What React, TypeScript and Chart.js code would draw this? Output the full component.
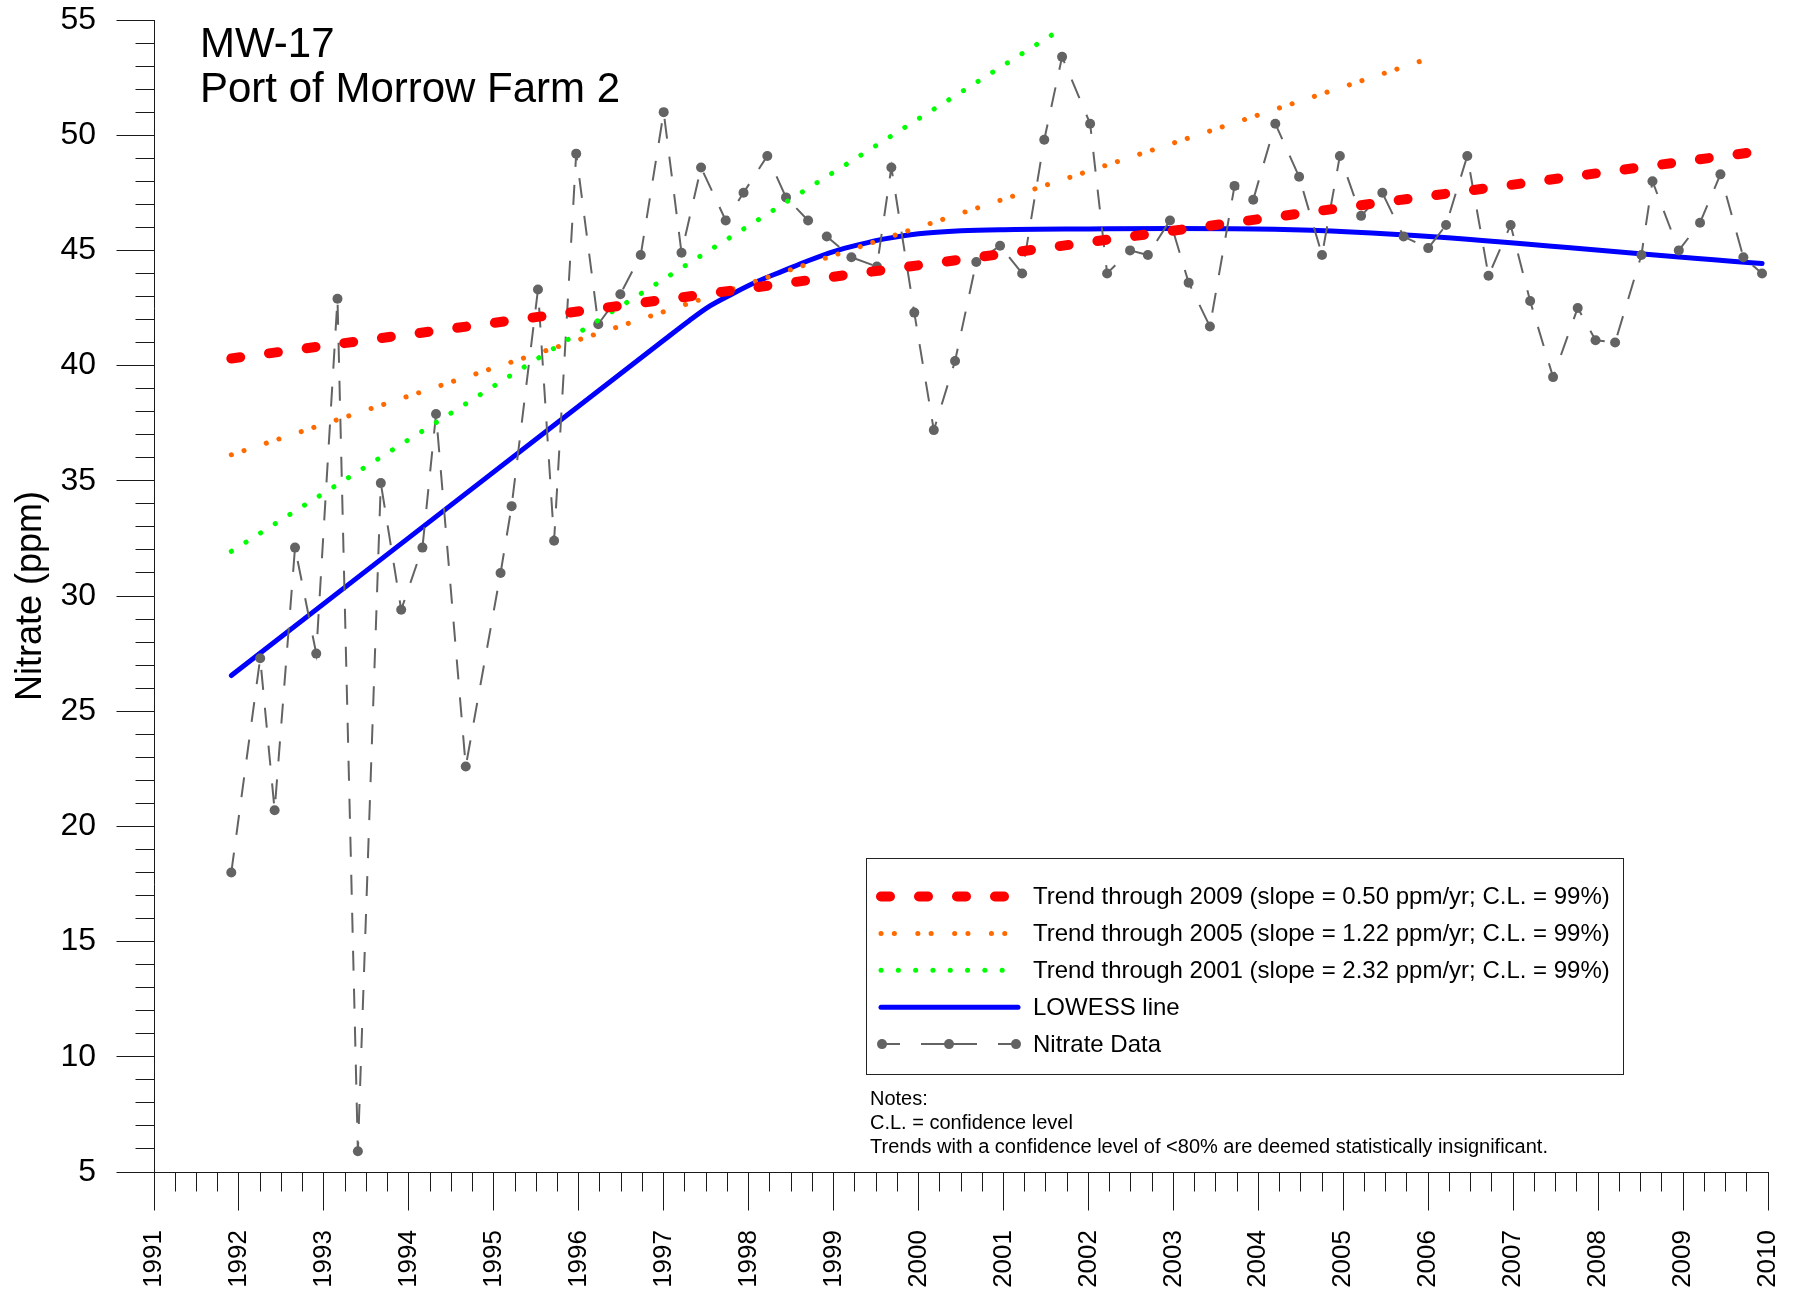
import React, { useEffect, useRef } from "react";
import { Chart, registerables } from "chart.js";

Chart.register(...registerables);

const FONT_FAMILY = "'Liberation Sans', Arial, Helvetica, sans-serif";

// ---------------- Data ----------------
const nitrateDates = [
  1991.91, 1992.25, 1992.42, 1992.66, 1992.91, 1993.16, 1993.40, 1993.67, 1993.91, 1994.16,
  1994.32, 1994.67, 1995.08, 1995.21, 1995.52, 1995.71, 1995.97, 1996.23, 1996.49, 1996.73,
  1997.00, 1997.21, 1997.44, 1997.73, 1997.94, 1998.22, 1998.44, 1998.70, 1998.92, 1999.21,
  1999.51, 1999.68, 1999.95, 2000.18, 2000.43, 2000.68, 2000.96, 2001.22, 2001.48, 2001.69,
  2002.02, 2002.22, 2002.49, 2002.70, 2002.96, 2003.18, 2003.43, 2003.72, 2003.94, 2004.20,
  2004.48, 2004.75, 2004.96, 2005.21, 2005.46, 2005.71, 2006.00, 2006.21, 2006.46, 2006.71,
  2006.97, 2007.20, 2007.47, 2007.76, 2007.97, 2008.20, 2008.51, 2008.64, 2008.95, 2009.20,
  2009.44, 2009.71, 2009.93,
];
const nitrateValues = [
  18.0, 27.3, 20.7, 32.1, 27.5, 42.9, 5.9, 34.9, 29.4, 32.1,
  37.9, 22.6, 31.0, 33.9, 43.3, 32.4, 49.2, 41.8, 43.1, 44.8,
  51.0, 44.9, 48.6, 46.3, 47.5, 49.1, 47.3, 46.3, 45.6, 44.7,
  44.3, 48.6, 42.3, 37.2, 40.2, 44.5, 45.2, 44.0, 49.8, 53.4,
  50.5, 44.0, 45.0, 44.8, 46.3, 43.6, 41.7, 47.8, 47.2, 50.5,
  48.2, 44.8, 49.1, 46.5, 47.5, 45.6, 45.1, 46.1, 49.1, 43.9,
  46.1, 42.8, 39.5, 42.5, 41.1, 41.0, 44.8, 48.0, 45.0, 46.2,
  48.3, 44.7, 44.0,
];

const lowessDates = [
  1991.91, 1997.0, 1997.3, 1997.55, 1997.8, 1998.1, 1998.4, 1998.7, 1999.0, 1999.3,
  1999.6, 2000.0, 2000.5, 2001.0, 2002.0, 2003.0, 2004.19, 2009.93,
];
const lowessValues = [
  26.55, 41.1, 41.95, 42.6, 43.1, 43.65, 44.1, 44.55, 44.95, 45.25,
  45.5, 45.72, 45.85, 45.9, 45.93, 45.95, 45.92, 44.43,
];

const trend2009Dates = [1991.91, 2009.93];
const trend2009Values = [40.31, 49.32];
const trend2005Dates = [1991.91, 2006.0];
const trend2005Values = [36.13, 53.32];
const trend2001Dates = [1991.91, 2001.62];
const trend2001Values = [31.94, 54.47];

const seriesLabels = [
  "Trend through 2009 (slope = 0.50 ppm/yr; C.L. = 99%)",
  "Trend through 2005 (slope = 1.22 ppm/yr; C.L. = 99%)",
  "Trend through 2001 (slope = 2.32 ppm/yr; C.L. = 99%)",
  "LOWESS line",
  "Nitrate Data",
];

const titleLines = ["MW-17", "Port of Morrow Farm 2"];
const yAxisTitle = "Nitrate (ppm)";
const noteLines = [
  "Notes:",
  "C.L. = confidence level",
  "Trends with a confidence level of <80% are deemed statistically insignificant.",
];

const xMin = 1991;
const xMax = 2010;
const yMin = 5;
const yMax = 55;
const yMajorStep = 5;
const yMinorStep = 1;
const xMajorStep = 1;
const xMinorStep = 0.25;

const toPoints = (xs: number[], ys: number[]) => xs.map((x, i) => ({ x, y: ys[i] }));

const AXIS_COLOR = "#1a1a1a";
const DATA_COLOR = "#636363";

// ---------------- Plugins ----------------
const axisTicksPlugin = {
  id: "axisTicks",
  afterDraw(chart: any) {
    const { ctx, chartArea } = chart;
    const xs = chart.scales.x;
    const ys = chart.scales.y;
    ctx.save();
    ctx.strokeStyle = AXIS_COLOR;
    ctx.lineWidth = 1;
    ctx.setLineDash([]);
    ctx.beginPath();
    const leftEdge = Math.round(chartArea.left - 0.5) + 0.5;
    const nY = Math.round((yMax - yMin) / yMinorStep);
    for (let i = 0; i <= nY; i++) {
      const v = yMin + i * yMinorStep;
      const py = Math.round(ys.getPixelForValue(v) - 0.5) + 0.5;
      const r = v / yMajorStep;
      const major = Math.abs(r - Math.round(r)) < 1e-6;
      const len = major ? 38 : 19;
      ctx.moveTo(leftEdge - len, py);
      ctx.lineTo(leftEdge, py);
    }
    const bottomEdge = Math.round(chartArea.bottom - 0.5) + 0.5;
    const nX = Math.round((xMax - xMin) / xMinorStep);
    for (let i = 0; i <= nX; i++) {
      const v = xMin + i * xMinorStep;
      const px = Math.round(xs.getPixelForValue(v) - 0.5) + 0.5;
      const r = (v - xMin) / xMajorStep;
      const major = Math.abs(r - Math.round(r)) < 1e-6;
      const len = major ? 38 : 19;
      ctx.moveTo(px, bottomEdge);
      ctx.lineTo(px, bottomEdge + len);
    }
    ctx.stroke();
    ctx.restore();
  },
};

const annotationsPlugin = {
  id: "annotations",
  afterDraw(chart: any) {
    const { ctx } = chart;
    ctx.save();
    ctx.fillStyle = "#000";
    ctx.textAlign = "left";
    ctx.textBaseline = "alphabetic";
    ctx.font = `42px ${FONT_FAMILY}`;
    ctx.fillText(titleLines[0], 200, 57);
    ctx.fillText(titleLines[1], 200, 102);
    ctx.font = `20px ${FONT_FAMILY}`;
    noteLines.forEach((t, i) => ctx.fillText(t, 870, 1105 + i * 24));
    ctx.restore();
  },
};

const legendPlugin = {
  id: "customLegend",
  afterDraw(chart: any) {
    const { ctx } = chart;
    const boxX = 866.5;
    const boxY = 858.5;
    const boxW = 757;
    const boxH = 216;
    const rowY0 = 896.5;
    const rowGap = 36.9;
    const sx0 = 881;
    const sx1 = 1018;
    const textX = 1033;
    ctx.save();
    ctx.fillStyle = "#fff";
    ctx.fillRect(boxX, boxY, boxW, boxH);
    ctx.strokeStyle = "#222";
    ctx.lineWidth = 1;
    ctx.setLineDash([]);
    ctx.strokeRect(boxX, boxY, boxW, boxH);

    seriesLabels.forEach((label, i) => {
      const ds = chart.data.datasets.find((d: any) => d.label === label);
      if (!ds) return;
      const y = rowY0 + i * rowGap;
      ctx.save();
      ctx.strokeStyle = ds.borderColor;
      ctx.lineWidth = ds.borderWidth;
      ctx.lineCap = ds.borderCapStyle || "butt";
      if (ds.pointRadius > 0) {
        ctx.setLineDash([18, 21, 56, 21, 18]);
        ctx.beginPath();
        ctx.moveTo(882, y);
        ctx.lineTo(1016, y);
        ctx.stroke();
        ctx.setLineDash([]);
        ctx.fillStyle = ds.pointBackgroundColor;
        [882, 949, 1016].forEach((mx) => {
          ctx.beginPath();
          ctx.arc(mx, y, ds.pointRadius, 0, Math.PI * 2);
          ctx.fill();
        });
      } else {
        ctx.setLineDash(ds.borderDash || []);
        ctx.beginPath();
        ctx.moveTo(sx0, y);
        ctx.lineTo(sx1, y);
        ctx.stroke();
      }
      ctx.restore();
      ctx.fillStyle = "#000";
      ctx.font = `24px ${FONT_FAMILY}`;
      ctx.textAlign = "left";
      ctx.textBaseline = "middle";
      ctx.fillText(label, textX, y + 1);
    });
    ctx.restore();
  },
};

// ---------------- Component ----------------
export default function App() {
  const canvasRef = useRef<HTMLCanvasElement | null>(null);

  useEffect(() => {
    const canvas = canvasRef.current;
    if (!canvas) return;

    const chart = new Chart(canvas, {
      type: "line",
      data: {
        datasets: [
          {
            label: seriesLabels[0],
            data: toPoints(trend2009Dates, trend2009Values),
            borderColor: "#ff0000",
            borderWidth: 10,
            borderDash: [9, 29],
            borderCapStyle: "round",
            pointRadius: 0,
            fill: false,
            tension: 0,
            order: 0,
          },
          {
            label: seriesLabels[1],
            data: toPoints(trend2005Dates, trend2005Values),
            borderColor: "#ff6a00",
            borderWidth: 5,
            borderDash: [0.1, 13.2, 0.1, 23.4],
            borderCapStyle: "round",
            pointRadius: 0,
            fill: false,
            tension: 0,
            order: 1,
          },
          {
            label: seriesLabels[2],
            data: toPoints(trend2001Dates, trend2001Values),
            borderColor: "#00ff00",
            borderWidth: 5,
            borderDash: [0.1, 17.2],
            borderCapStyle: "round",
            pointRadius: 0,
            fill: false,
            tension: 0,
            order: 2,
          },
          {
            label: seriesLabels[4],
            data: toPoints(nitrateDates, nitrateValues),
            borderColor: DATA_COLOR,
            borderWidth: 2,
            borderDash: [20, 18],
            pointRadius: 5,
            pointBackgroundColor: DATA_COLOR,
            pointBorderWidth: 0,
            pointBorderColor: DATA_COLOR,
            fill: false,
            tension: 0,
            order: 3,
          },
          {
            label: seriesLabels[3],
            data: toPoints(lowessDates, lowessValues),
            borderColor: "#0000ff",
            borderWidth: 5,
            borderCapStyle: "round",
            borderJoinStyle: "round",
            pointRadius: 0,
            fill: false,
            cubicInterpolationMode: "monotone",
            order: 4,
          },
        ] as any,
      },
      options: {
        responsive: false,
        animation: false,
        devicePixelRatio: 1,
        layout: { padding: { top: 20, right: 31, left: 0, bottom: 0 } },
        font: { family: FONT_FAMILY } as any,
        plugins: {
          legend: { display: false },
          tooltip: { enabled: false },
          title: { display: false },
        },
        scales: {
          x: {
            type: "linear",
            min: xMin,
            max: xMax,
            grid: { display: false, drawTicks: false },
            border: { display: true, color: AXIS_COLOR, width: 1 },
            ticks: {
              stepSize: xMajorStep,
              autoSkip: false,
              minRotation: 90,
              maxRotation: 90,
              padding: 58,
              color: "#000",
              font: { family: FONT_FAMILY, size: 26 },
              callback: (v: any) => String(v),
            },
            afterFit: (scale: any) => {
              scale.height = 123;
              scale.paddingLeft = 0;
              scale.paddingRight = 0;
            },
          },
          y: {
            type: "linear",
            min: yMin,
            max: yMax,
            grid: { display: false, drawTicks: false },
            border: { display: true, color: AXIS_COLOR, width: 1 },
            ticks: {
              stepSize: yMajorStep,
              padding: 58,
              color: "#000",
              font: { family: FONT_FAMILY, size: 32 },
              callback: (v: any) => String(v),
            },
            title: {
              display: true,
              text: yAxisTitle,
              color: "#000",
              font: { family: FONT_FAMILY, size: 36 },
              padding: { top: 9, bottom: 0 },
            },
            afterFit: (scale: any) => {
              scale.width = 154;
              scale.paddingTop = 0;
              scale.paddingBottom = 0;
            },
          },
        },
      } as any,
      plugins: [axisTicksPlugin, annotationsPlugin, legendPlugin],
    });

    return () => {
      chart.destroy();
    };
  }, []);

  return (
    <div
      style={{
        position: "absolute",
        left: 0,
        top: 0,
        width: 1799,
        height: 1295,
        background: "#fff",
      }}
    >
      <canvas
        ref={canvasRef}
        width={1799}
        height={1295}
        style={{ display: "block", width: 1799, height: 1295 }}
      />
    </div>
  );
}
